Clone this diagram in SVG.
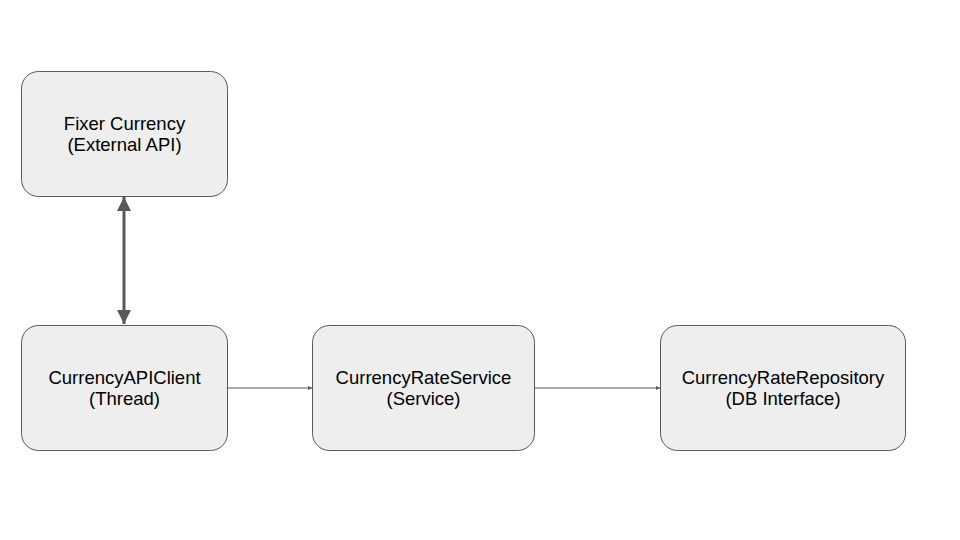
<svg xmlns="http://www.w3.org/2000/svg" width="960" height="540" viewBox="0 0 960 540">
<defs>
<style>
.box{fill:#eeeeee;stroke:#595959;stroke-width:1}
.t{font-family:"Liberation Sans",Arial,sans-serif;font-size:18.5px;fill:#000;text-anchor:middle}
.thin{stroke:#595959;stroke-width:1;fill:none}
.thick{stroke:#595959;stroke-width:3;fill:none}
</style>
<marker id="sm" viewBox="0 0 10 10" refX="10" refY="5" markerWidth="6" markerHeight="4" markerUnits="userSpaceOnUse" orient="auto"><path d="M0,0L10,5L0,10z" fill="#595959"/></marker>
<marker id="bg" viewBox="0 0 10 10" refX="10" refY="5" markerWidth="17" markerHeight="14" markerUnits="userSpaceOnUse" orient="auto-start-reverse"><path d="M0,0L10,5L0,10z" fill="#595959"/></marker>
</defs>
<rect width="960" height="540" fill="#fff"/>
<g id="connectors">
<line class="thick" x1="124" y1="197" x2="124" y2="324" marker-start="url(#bg)" marker-end="url(#bg)"/>
<line class="thin" x1="228" y1="388" x2="312" y2="388" marker-end="url(#sm)"/>
<line class="thin" x1="535" y1="388" x2="660" y2="388" marker-end="url(#sm)"/>
</g>
<g id="fixer">
<rect class="box" x="21.5" y="71.5" width="206" height="125" rx="17"/>
<text class="t" x="124.5" y="130">Fixer Currency</text>
<text class="t" x="124.5" y="151">(External API)</text>
</g>
<g id="apiclient">
<rect class="box" x="21.5" y="325.5" width="206" height="125" rx="17"/>
<text class="t" x="124.5" y="384">CurrencyAPIClient</text>
<text class="t" x="124.5" y="405">(Thread)</text>
</g>
<g id="service">
<rect class="box" x="312.5" y="325.5" width="222" height="125" rx="17"/>
<text class="t" x="423.5" y="384">CurrencyRateService</text>
<text class="t" x="423.5" y="405">(Service)</text>
</g>
<g id="repository">
<rect class="box" x="660.5" y="325.5" width="245" height="125" rx="17"/>
<text class="t" x="783" y="384">CurrencyRateRepository</text>
<text class="t" x="783" y="405">(DB Interface)</text>
</g>
</svg>
